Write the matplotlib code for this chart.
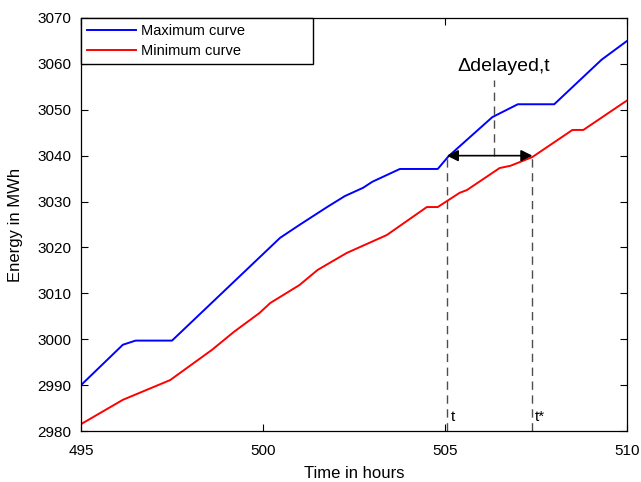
"""Energy band with delayed-time annotation"""

import matplotlib.pyplot as plt

# upper energy envelope (hours, MWh)
t_max = [495.0, 496.15, 496.5, 497.5, 500.47, 501.0, 501.76, 502.25, 502.75, 503.0,
         503.76, 504.8, 505.1, 506.3, 507.0, 508.0, 509.3, 510.0]
e_max = [2990.0, 2998.8, 2999.7, 2999.7, 3022.1, 3024.9, 3028.8, 3031.2, 3033.0, 3034.3,
         3037.1, 3037.1, 3039.9, 3048.4, 3051.2, 3051.2, 3060.9, 3065.0]

# lower energy envelope
t_min = [495.0, 496.15, 497.45, 498.6, 499.2, 499.9, 500.2, 501.0, 501.5, 502.3,
         503.4, 504.5, 504.8, 505.4, 505.6, 506.5, 506.8, 507.4, 508.5, 508.8,
         509.9, 510.0]
e_min = [2981.5, 2986.8, 2991.1, 2997.7, 3001.6, 3005.7, 3007.9, 3011.8, 3015.1, 3018.8,
         3022.7, 3028.8, 3028.8, 3031.9, 3032.5, 3037.3, 3037.8, 3039.7, 3045.6, 3045.6,
         3051.5, 3052.0]

# delay markers
t_start = 505.05
t_star = 507.4
e_level = 3040.0
t_label = 506.35


def load_style():
    plt.rcParams["font.family"] = ["Liberation Sans", "DejaVu Sans"]
    plt.rcParams["axes.unicode_minus"] = False
    plt.rcParams["xtick.direction"] = "in"
    plt.rcParams["ytick.direction"] = "in"
    plt.rcParams["xtick.top"] = True
    plt.rcParams["ytick.right"] = True


def create_chart(ax):
    ax.plot(t_max, e_max, color="#0000ff", linewidth=1.4, label="Maximum curve")
    ax.plot(t_min, e_min, color="#ff0000", linewidth=1.4, label="Minimum curve")

    dash = dict(color="0.3", linestyle=(0, (6, 4)), linewidth=1.0)
    ax.plot([t_start, t_start], [2980, e_level], **dash)
    ax.plot([t_star, t_star], [2980, e_level], **dash)
    ax.plot([t_label, t_label], [e_level, 3056.5], **dash)

    ax.annotate("", xy=(t_start, e_level), xytext=(t_star, e_level),
                arrowprops=dict(arrowstyle="<|-|>", color="black", lw=1.2,
                                mutation_scale=17, shrinkA=0, shrinkB=0))

    ax.text(t_start + 0.12, 2981.5, "t", fontsize=11, va="bottom")
    ax.text(t_star + 0.08, 2981.5, "t*", fontsize=11, va="bottom")
    ax.text(t_label + 0.25, 3057.5, "Δdelayed,t", fontsize=14, ha="center", va="bottom")

    ax.set_xlim(495, 510)
    ax.set_ylim(2980, 3070)
    ax.set_xticks([495, 500, 505, 510])
    ax.set_yticks(range(2980, 3071, 10))
    ax.tick_params(labelsize=11, length=5, width=0.8)
    ax.tick_params(axis="x", pad=9)
    ax.tick_params(axis="y", pad=7)
    for s in ax.spines.values():
        s.set_linewidth(0.9)

    ax.set_xlabel("Time in hours", fontsize=12, labelpad=6)
    ax.set_ylabel("Energy in MWh", fontsize=12, labelpad=10)
    ax.legend(loc="upper left", bbox_to_anchor=(0, 0, 0.425, 1.0), mode="expand",
              borderaxespad=0, fancybox=False, framealpha=1, edgecolor="black",
              fontsize=10.5, handlelength=3.4, handletextpad=0.3, borderpad=0.4,
              labelspacing=0.45)


if __name__ == "__main__":
    load_style()
    fig = plt.figure(figsize=(6.41, 4.82), dpi=100)
    ax = fig.add_axes([0.1264, 0.1058, 0.8518, 0.8569])
    create_chart(ax)
    plt.savefig("out.png")
